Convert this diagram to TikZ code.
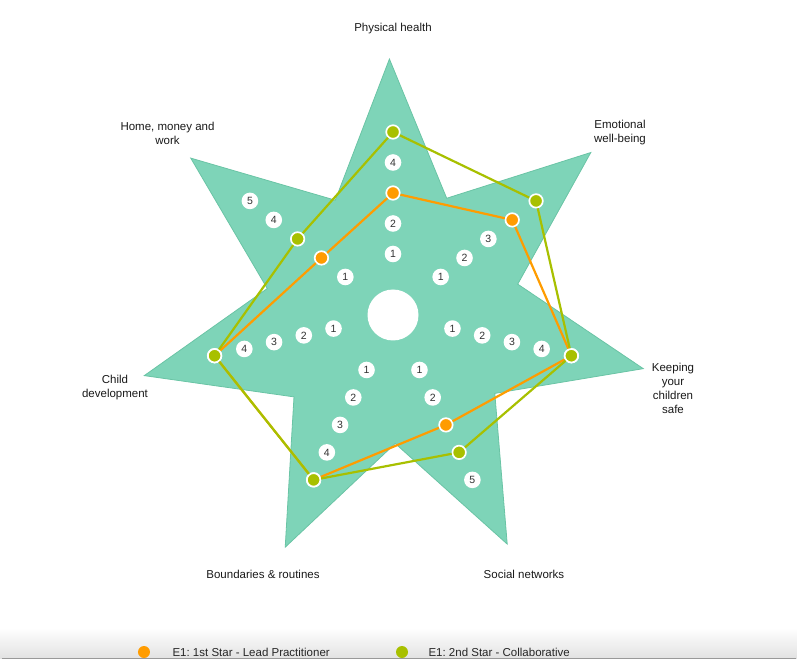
\documentclass[tikz,border=0pt]{standalone}
\usepackage{fontspec}
\setmainfont{Liberation Sans}
\frenchspacing
\definecolor{starfill}{HTML}{7ED4B8}
\definecolor{staredge}{HTML}{6AC4A5}
\definecolor{firstcol}{HTML}{FF9C00}
\definecolor{secondcol}{HTML}{A8C000}
\definecolor{numcol}{HTML}{333333}
\definecolor{bargray}{HTML}{E2E2E2}

\begin{document}
\begin{tikzpicture}[x=1pt,y=1pt,
  num/.style={circle,fill=white,inner sep=0pt,minimum size=16.6pt,text=numcol,font=\fontsize{10.5}{11}\selectfont},
  firstdot/.style={circle,fill=firstcol,draw=white,line width=1.7pt,inner sep=0pt,minimum size=13.5pt},
  seconddot/.style={firstdot,fill=secondcol},
  axislabel/.style={align=center,text=black!90,font=\fontsize{11.5}{14}\selectfont},
  keytext/.style={anchor=west,text=black!85,font=\fontsize{11.5}{14}\selectfont}]
\useasboundingbox (-393,-351) rectangle (404,315);
% the star
\draw[fill=starfill,draw=staredge,line width=0.8pt]
  (90.8:256) -- (65.3:128.5) -- (39.4:256) -- (13.9:128.5) -- (-12.1:256) -- (-37.6:128.5)
  -- (-63.5:256) -- (-89:128.5) -- (-114.9:256) -- (-140.4:128.5) -- (-166.3:256)
  -- (168.1:128.5) -- (142.2:256) -- (116.7:128.5) -- cycle;
\fill[white] (0,0) circle (25.5);
% scale marks (angle:radius) node [num] {level}
\path (90:61) node[num] (ph1) {1} (90:91.5) node[num] (ph2) {2} (90:152.5) node[num] (ph4) {4}
      (38.57:61) node[num] (ew1) {1} (38.57:91.5) node[num] (ew2) {2} (38.57:122) node[num] (ew3) {3}
      (-12.86:61) node[num] (ks1) {1} (-12.86:91.5) node[num] (ks2) {2} (-12.86:122) node[num] (ks3) {3} (-12.86:152.5) node[num] (ks4) {4}
      (-64.29:61) node[num] (sn1) {1} (-64.29:91.5) node[num] (sn2) {2} (-64.29:183) node[num] (sn5) {5}
      (-115.71:61) node[num] (br1) {1} (-115.71:91.5) node[num] (br2) {2} (-115.71:122) node[num] (br3) {3} (-115.71:152.5) node[num] (br4) {4}
      (-167.14:61) node[num] (cd1) {1} (-167.14:91.5) node[num] (cd2) {2} (-167.14:122) node[num] (cd3) {3} (-167.14:152.5) node[num] (cd4) {4}
      (141.43:61) node[num] (hm1) {1} (141.43:152.5) node[num] (hm4) {4} (141.43:183) node[num] (hm5) {5};
% 1st star
\path (90:122) node[firstdot] (o1) {} (38.57:152.5) node[firstdot] (o2) {} (-12.86:183) node[firstdot] (o3) {}
      (-64.29:122) node[firstdot] (o4) {} (-115.71:183) node[firstdot] (o5) {} (-167.14:183) node[firstdot] (o6) {}
      (141.43:91.5) node[firstdot] (o7) {};
\draw[firstcol,line width=2.2pt] (o1) -- (o2) -- (o3) -- (o4) -- (o5) -- (o6) -- (o7) -- (o1);
% 2nd star
\path (90:183) node[seconddot] (g1) {} (38.57:183) node[seconddot] (g2) {} (-12.86:183) node[seconddot] (g3) {}
      (-64.29:152.5) node[seconddot] (g4) {} (-115.71:183) node[seconddot] (g5) {} (-167.14:183) node[seconddot] (g6) {}
      (141.43:122) node[seconddot] (g7) {};
\draw[secondcol,line width=2.2pt] (g1) -- (g2) -- (g3) -- (g4) -- (g5) -- (g6) -- (g7) -- (g1);
% axis names
\node[axislabel] (physical) at (0,286) {Physical health};
\node[axislabel] (emotional) at (227,182) {Emotional\\well-being};
\node[axislabel] (safe) at (280,-73) {Keeping\\your\\children\\safe};
\node[axislabel] (social) at (131,-259) {Social networks};
\node[axislabel] (bounds) at (-130,-259) {Boundaries \& routines};
\node[axislabel] (child) at (-278,-73) {Child\\development};
\node[axislabel] (home) at (-225.5,182) {Home, money and\\work};
% legend bar
\shade[top color=white,bottom color=bargray] (-393,-313) rectangle (404,-343);
\draw[gray!80,line width=1.2pt] (-391,-343.5) -- (403,-343.5);
\node[circle,fill=firstcol,inner sep=0pt,minimum size=12pt] (firstkey) at (-249,-337) {};
\node[keytext] (firsttext) at (-224,-337) {E1: 1st Star - Lead Practitioner};
\node[circle,fill=secondcol,inner sep=0pt,minimum size=12pt] (secondkey) at (9,-337) {};
\node[keytext] (secondtext) at (32,-337) {E1: 2nd Star - Collaborative};
\end{tikzpicture}
\end{document}
